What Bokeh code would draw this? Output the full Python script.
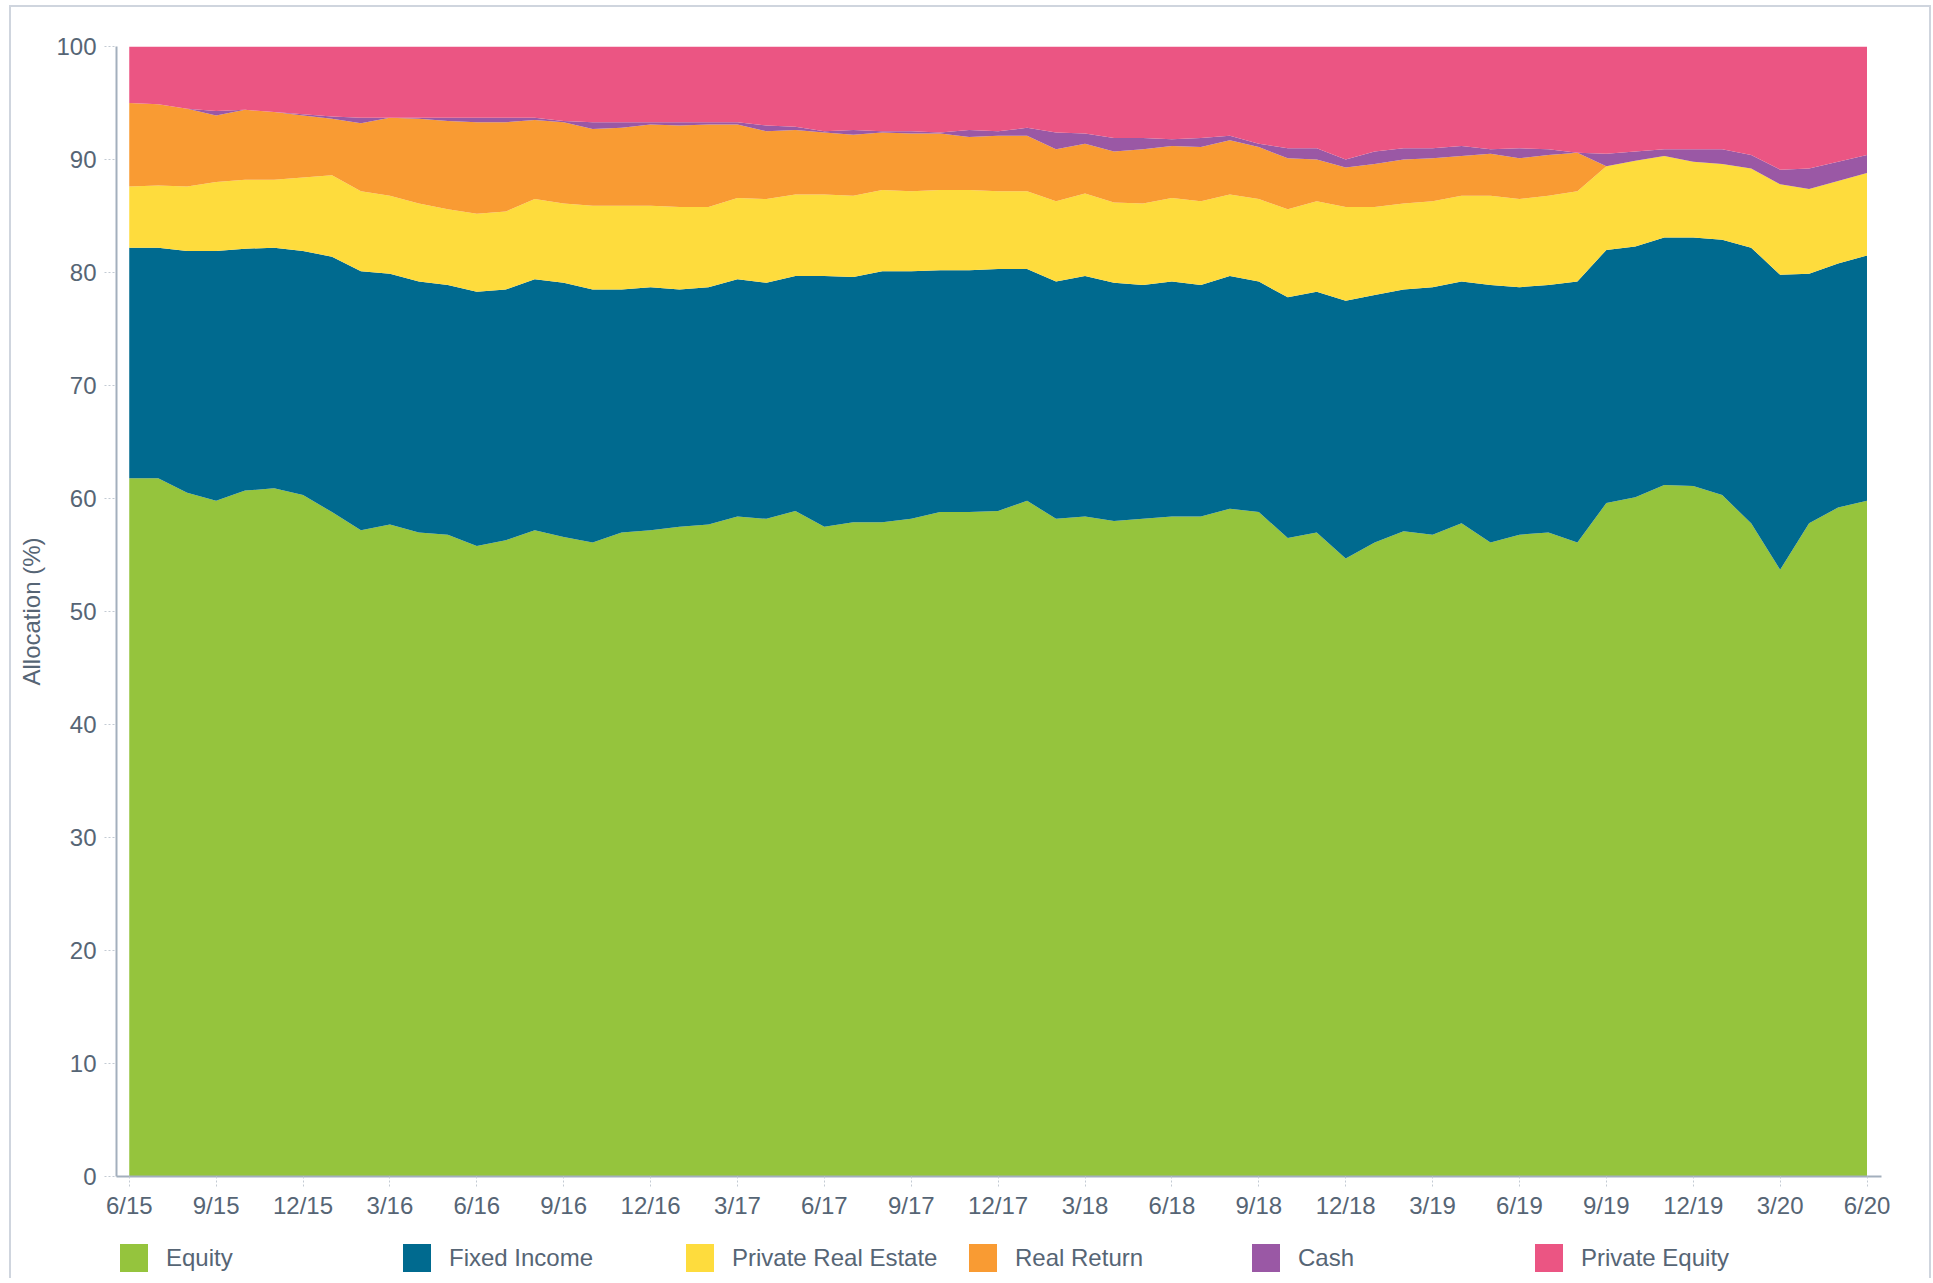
from bokeh.plotting import figure
from bokeh.layouts import column
from bokeh.models import ColumnDataSource, FixedTicker, Legend, LegendItem, Range1d
from bokeh.embed import file_html
from bokeh.resources import INLINE

months = ["6/15", "7/15", "8/15", "9/15", "10/15", "11/15", "12/15",
          "1/16", "2/16", "3/16", "4/16", "5/16", "6/16", "7/16", "8/16", "9/16", "10/16", "11/16", "12/16",
          "1/17", "2/17", "3/17", "4/17", "5/17", "6/17", "7/17", "8/17", "9/17", "10/17", "11/17", "12/17",
          "1/18", "2/18", "3/18", "4/18", "5/18", "6/18", "7/18", "8/18", "9/18", "10/18", "11/18", "12/18",
          "1/19", "2/19", "3/19", "4/19", "5/19", "6/19", "7/19", "8/19", "9/19", "10/19", "11/19", "12/19",
          "1/20", "2/20", "3/20", "4/20", "5/20", "6/20"]

tick_labels = ["6/15", "9/15", "12/15", "3/16", "6/16", "9/16", "12/16", "3/17", "6/17", "9/17", "12/17",
               "3/18", "6/18", "9/18", "12/18", "3/19", "6/19", "9/19", "12/19", "3/20", "6/20"]

y_ticks = [0, 10, 20, 30, 40, 50, 60, 70, 80, 90, 100]

series_names = ["Equity", "Fixed Income", "Private Real Estate", "Real Return", "Cash", "Private Equity"]

equity = [61.8, 61.8, 60.5, 59.8, 60.7, 60.9, 60.3, 58.8, 57.2, 57.7, 57.0, 56.8, 55.8, 56.3, 57.2, 56.6,
          56.1, 57.0, 57.2, 57.5, 57.7, 58.4, 58.2, 58.9, 57.5, 57.9, 57.9, 58.2, 58.8, 58.8, 58.9, 59.8,
          58.2, 58.4, 58.0, 58.2, 58.4, 58.4, 59.1, 58.8, 56.5, 57.0, 54.7, 56.1, 57.1, 56.8, 57.8, 56.1,
          56.8, 57.0, 56.1, 59.6, 60.1, 61.2, 61.1, 60.3, 57.8, 53.7, 57.8, 59.2, 59.8]

fixed_income = [20.4, 20.4, 21.4, 22.1, 21.4, 21.3, 21.6, 22.6, 22.9, 22.2, 22.2, 22.1, 22.5, 22.2, 22.2, 22.5,
                22.4, 21.5, 21.5, 21.0, 21.0, 21.0, 20.9, 20.8, 22.2, 21.7, 22.2, 21.9, 21.4, 21.4, 21.4, 20.5,
                21.0, 21.3, 21.1, 20.7, 20.8, 20.5, 20.6, 20.4, 21.3, 21.3, 22.8, 21.9, 21.4, 21.9, 21.4, 22.8,
                21.9, 21.9, 23.1, 22.4, 22.2, 21.9, 22.0, 22.6, 24.4, 26.1, 22.1, 21.6, 21.7]

private_real_estate = [5.4, 5.5, 5.7, 6.1, 6.1, 6.0, 6.5, 7.2, 7.1, 6.9, 6.9, 6.7, 6.9, 6.9, 7.1, 7.0,
                       7.4, 7.4, 7.2, 7.3, 7.1, 7.2, 7.4, 7.2, 7.2, 7.2, 7.2, 7.1, 7.1, 7.1, 6.9, 6.9,
                       7.1, 7.3, 7.1, 7.2, 7.4, 7.4, 7.2, 7.3, 7.8, 8.0, 8.3, 7.8, 7.6, 7.6, 7.6, 7.9,
                       7.8, 7.9, 8.0, 7.4, 7.6, 7.2, 6.7, 6.7, 7.0, 8.0, 7.5, 7.3, 7.3]

real_return = [7.4, 7.2, 6.9, 5.9, 6.2, 6.0, 5.5, 5.0, 6.0, 6.9, 7.5, 7.8, 8.1, 7.9, 7.0, 7.2,
               6.8, 6.9, 7.2, 7.2, 7.3, 6.5, 6.0, 5.7, 5.5, 5.4, 5.1, 5.1, 5.0, 4.7, 4.9, 4.9,
               4.6, 4.4, 4.5, 4.8, 4.6, 4.8, 4.8, 4.6, 4.5, 3.7, 3.5, 3.8, 3.9, 3.8, 3.5, 3.7,
               3.6, 3.6, 3.4, 0.0, 0.0, 0.0, 0.0, 0.0, 0.0, 0.0, 0.0, 0.0, 0.0]

cash = [0.0, 0.0, 0.0, 0.4, 0.0, 0.0, 0.1, 0.2, 0.5, 0.0, 0.1, 0.3, 0.4, 0.4, 0.2, 0.1,
        0.6, 0.5, 0.2, 0.3, 0.2, 0.2, 0.5, 0.3, 0.1, 0.4, 0.1, 0.2, 0.1, 0.6, 0.4, 0.7,
        1.5, 0.9, 1.2, 1.0, 0.6, 0.8, 0.4, 0.3, 0.9, 1.0, 0.7, 1.1, 1.0, 0.9, 0.9, 0.4,
        0.9, 0.5, 0.0, 1.1, 0.8, 0.6, 1.1, 1.3, 1.2, 1.3, 1.8, 1.7, 1.6]

private_equity = [5.0, 5.1, 5.5, 5.7, 5.6, 5.8, 6.0, 6.2, 6.3, 6.3, 6.3, 6.3, 6.3, 6.3, 6.3, 6.6,
                  6.7, 6.7, 6.7, 6.7, 6.7, 6.7, 7.0, 7.1, 7.5, 7.4, 7.5, 7.5, 7.6, 7.4, 7.5, 7.2,
                  7.6, 7.7, 8.1, 8.1, 8.2, 8.1, 7.9, 8.6, 9.0, 9.0, 10.0, 9.3, 9.0, 9.0, 8.8, 9.1,
                  9.0, 9.1, 9.4, 9.5, 9.3, 9.1, 9.1, 9.1, 9.6, 10.9, 10.8, 10.2, 9.6]

colors = ["#95C43D", "#006A8F", "#FEDC3D", "#F99B33", "#9A58A5", "#EB5583"]

TEXT = "#566575"
FONT = "Liberation Sans"

keys = ["equity", "fixed_income", "private_real_estate", "real_return", "cash", "private_equity"]
x_idx = list(range(len(months)))
source = ColumnDataSource(dict(x=x_idx, equity=equity, fixed_income=fixed_income,
                               private_real_estate=private_real_estate, real_return=real_return,
                               cash=cash, private_equity=private_equity))

# ---- main chart ----
p = figure(width=1918, height=1217, output_backend="svg", toolbar_location=None,
           x_range=Range1d(-0.44, 60.5), y_range=Range1d(0, 100),
           min_border_left=105, min_border_right=48, min_border_top=39, min_border_bottom=48)

p.varea_stack(stackers=keys, x="x", color=colors, source=source)

p.xgrid.visible = False
p.ygrid.visible = False
p.outline_line_color = None
p.background_fill_color = "white"

xa = p.xaxis[0]
xa.ticker = FixedTicker(ticks=[months.index(t) for t in tick_labels], minor_ticks=[])
xa.major_label_overrides = {months.index(t): t for t in tick_labels}
xa.axis_line_color = "#A3AFBD"
xa.axis_line_width = 2
xa.major_tick_in = 0
xa.major_tick_out = 10
xa.major_tick_line_color = "#C3CAD3"
xa.major_tick_line_dash = "2 2"
xa.minor_tick_line_color = None
xa.major_label_standoff = 5
xa.major_label_text_font = FONT
xa.major_label_text_font_size = "24px"
xa.major_label_text_color = TEXT

ya = p.yaxis[0]
ya.ticker = FixedTicker(ticks=y_ticks, minor_ticks=[])
ya.axis_line_color = "#A3AFBD"
ya.axis_line_width = 2
ya.major_tick_in = 0
ya.major_tick_out = 12
ya.major_tick_line_color = "#C3CAD3"
ya.major_tick_line_dash = "2 2"
ya.minor_tick_line_color = None
ya.major_label_standoff = 8
ya.major_label_text_font = FONT
ya.major_label_text_font_size = "24px"
ya.major_label_text_color = TEXT
ya.axis_label = "Allocation (%)"
ya.axis_label_text_font = FONT
ya.axis_label_text_font_size = "24px"
ya.axis_label_text_font_style = "normal"
ya.axis_label_text_color = TEXT
ya.axis_label_standoff = 8

# ---- legend strip below the chart (its areas lie outside its visible range) ----
pl = figure(width=1918, height=54, output_backend="svg", toolbar_location=None,
            x_axis_location=None, y_axis_location=None, min_border=0,
            x_range=Range1d(-100, -99), y_range=Range1d(0, 1))
pl.xgrid.visible = False
pl.ygrid.visible = False
pl.outline_line_color = None

legend_renderers = pl.varea_stack(stackers=keys, x="x", color=colors, source=source)
items = [LegendItem(label=n, renderers=[r]) for n, r in zip(series_names, legend_renderers)]

legend = Legend(items=items, location=(0, 3), orientation="horizontal",
                glyph_width=35, glyph_height=35, label_standoff=15, label_width=233,
                label_height=35, spacing=0, padding=0, margin=0,
                border_line_color=None, background_fill_alpha=0,
                label_text_font=FONT, label_text_font_size="24px", label_text_color=TEXT)
pl.add_layout(legend)

layout = column(p, pl, spacing=0,
                styles={"border-top": "2px solid #CFD5DE", "border-left": "2px solid #CFD5DE",
                        "border-right": "2px solid #CFD5DE", "margin-left": "9px", "margin-top": "5px"})

open("out.html", "w").write(file_html(layout, INLINE))
